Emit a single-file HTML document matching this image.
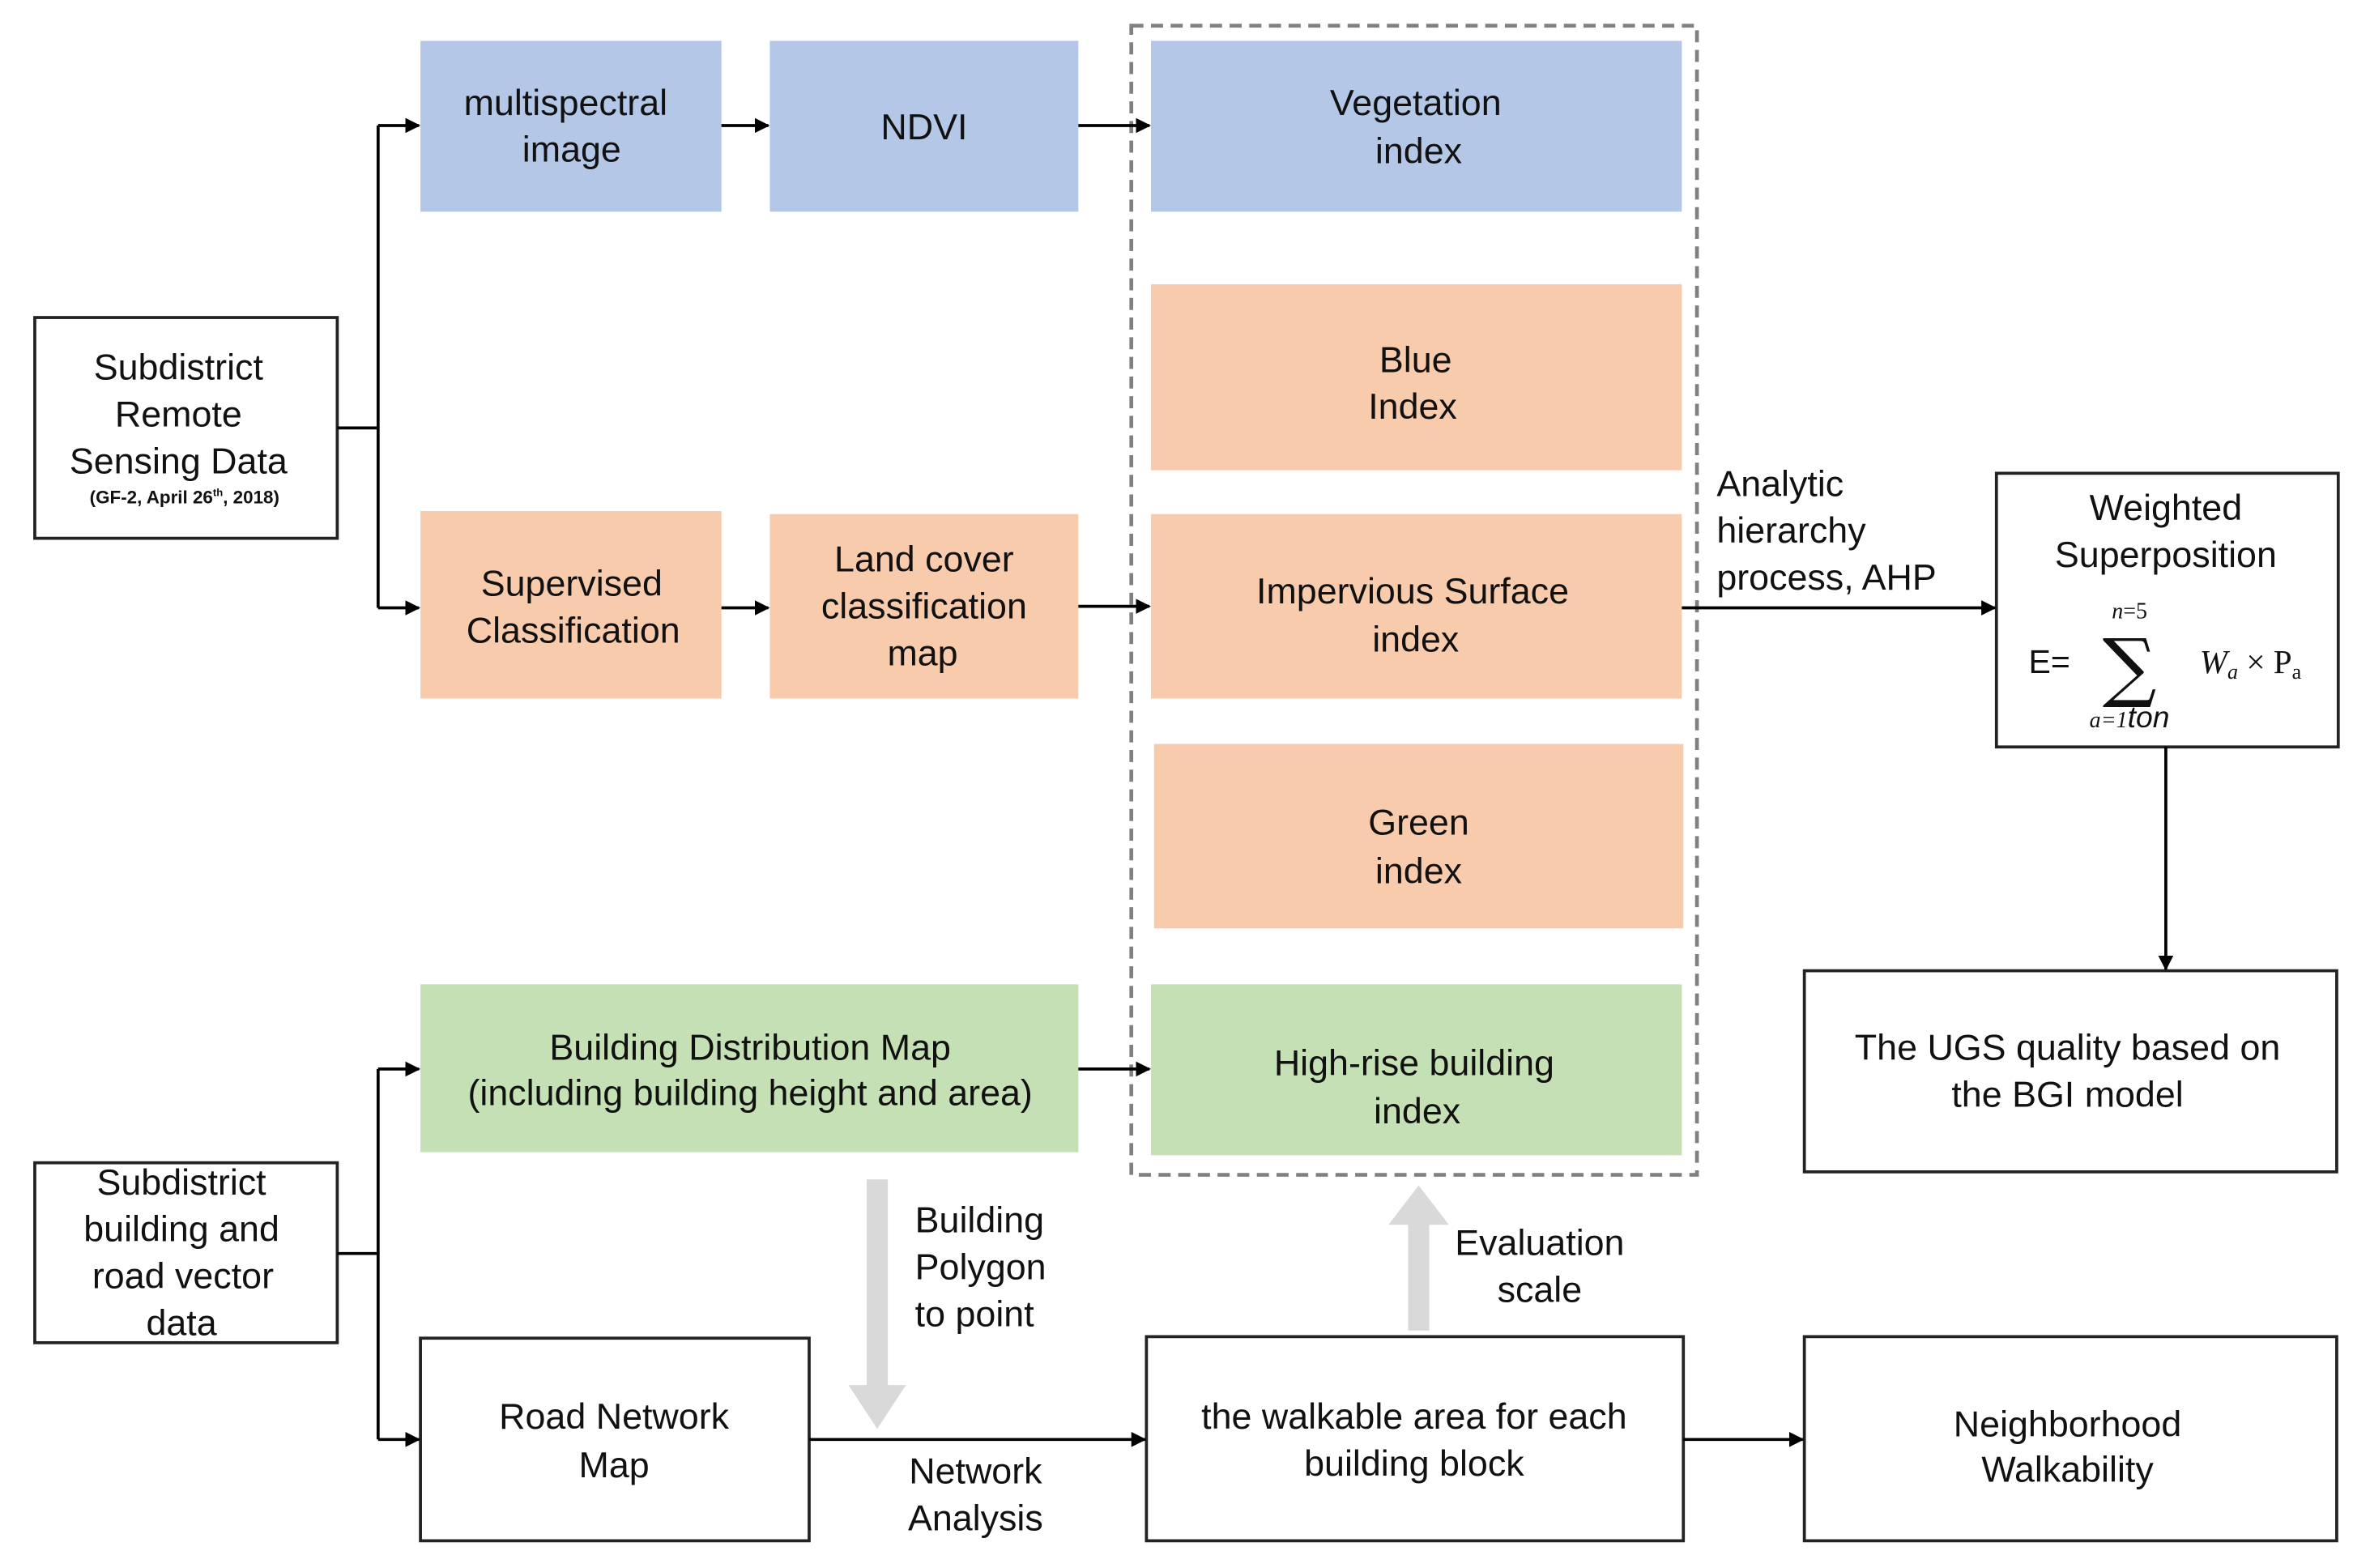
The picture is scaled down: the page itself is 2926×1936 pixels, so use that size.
<!DOCTYPE html>
<html><head><meta charset="utf-8"><style>
html,body{margin:0;padding:0;background:#fff;}
svg{display:block;}
text{font-family:"Liberation Sans",sans-serif;font-size:24px;fill:#111;text-anchor:middle;}
.l{text-anchor:start;}
</style></head><body>
<svg width="2926" height="1936" viewBox="0 0 1567 1037" preserveAspectRatio="none" xmlns="http://www.w3.org/2000/svg">
<defs>
<marker id="a" markerWidth="10" markerHeight="10" refX="9" refY="5" orient="auto" markerUnits="userSpaceOnUse"><path d="M0,0 L10,5 L0,10 z" fill="#000"/></marker>
</defs>
<g>
<rect x="278" y="27" width="199" height="113" fill="#b4c7e7"/>
<rect x="509" y="27" width="204" height="113" fill="#b4c7e7"/>
<rect x="761" y="27" width="351" height="113" fill="#b4c7e7"/>
<rect x="761" y="188" width="351" height="123" fill="#f8cbad"/>
<rect x="278" y="338" width="199" height="124" fill="#f8cbad"/>
<rect x="509" y="340" width="204" height="122" fill="#f8cbad"/>
<rect x="761" y="340" width="351" height="122" fill="#f8cbad"/>
<rect x="763" y="492" width="350" height="122" fill="#f8cbad"/>
<rect x="278" y="651" width="435" height="111" fill="#c5e0b4"/>
<rect x="761" y="651" width="351" height="113" fill="#c5e0b4"/>
</g>
<rect x="748" y="17" width="374" height="760" fill="none" stroke="#808080" stroke-width="2.5" stroke-dasharray="8,5"/>
<g fill="#fff" stroke="#222" stroke-width="2">
<rect x="23" y="210" width="200" height="146"/>
<rect x="23" y="769" width="200" height="119"/>
<rect x="278" y="885" width="257" height="134"/>
<rect x="758" y="884" width="355" height="135"/>
<rect x="1193" y="884" width="352" height="135"/>
<rect x="1193" y="642" width="352" height="133"/>
<rect x="1320" y="313" width="226" height="181"/>
</g>
<g stroke="#000" stroke-width="2" fill="none">
<path d="M223,283 H250 M250,83 V402"/>
<path d="M250,83 H277" marker-end="url(#a)"/>
<path d="M250,402 H277" marker-end="url(#a)"/>
<path d="M477,83 H508" marker-end="url(#a)"/>
<path d="M477,402 H508" marker-end="url(#a)"/>
<path d="M713,83 H760" marker-end="url(#a)"/>
<path d="M713,401 H760" marker-end="url(#a)"/>
<path d="M713,707 H760" marker-end="url(#a)"/>
<path d="M223,829 H250 M250,707 V952"/>
<path d="M250,707 H277" marker-end="url(#a)"/>
<path d="M250,952 H277" marker-end="url(#a)"/>
<path d="M535,952 H757" marker-end="url(#a)"/>
<path d="M1113,952 H1192" marker-end="url(#a)"/>
<path d="M1112,402 H1319" marker-end="url(#a)"/>
<path d="M1432,494 V641" marker-end="url(#a)"/>
</g>
<path d="M573,780 H587 V916 H599 L580,945 L561,916 H573 Z" fill="#d9d9d9"/>
<path d="M931,880 H945 V810 H958 L938,784 L918,810 H931 Z" fill="#d9d9d9"/>
<text x="118" y="251">Subdistrict</text>
<text x="118" y="282">Remote</text>
<text x="118" y="313">Sensing Data</text>
<text x="122" y="333" style="font-size:12px;font-weight:bold">(GF-2,  April 26<tspan style="font-size:7px" dy="-5">th</tspan><tspan dy="5">,  2018)</tspan></text>
<text x="374" y="76">multispectral</text>
<text x="378" y="107">image</text>
<text x="611" y="92">NDVI</text>
<text x="936" y="76">Vegetation</text>
<text x="938" y="108">index</text>
<text x="936" y="246">Blue</text>
<text x="934" y="277">Index</text>
<text x="378" y="394">Supervised</text>
<text x="379" y="425">Classification</text>
<text x="611" y="378">Land cover</text>
<text x="611" y="409">classification</text>
<text x="610" y="440">map</text>
<text x="934" y="399">Impervious  Surface</text>
<text x="936" y="431">index</text>
<text x="938" y="552">Green</text>
<text x="938" y="584">index</text>
<text x="496" y="701">Building Distribution Map</text>
<text x="496" y="731">(including  building  height  and  area)</text>
<text x="935" y="711">High-rise building</text>
<text x="937" y="743">index</text>
<text x="120" y="790">Subdistrict</text>
<text x="120" y="821">building and</text>
<text x="121" y="852">road vector</text>
<text x="120" y="883">data</text>
<text x="406" y="945">Road   Network</text>
<text x="406" y="977">Map</text>
<text x="935" y="945">the  walkable  area for each</text>
<text x="935" y="976">building block</text>
<text x="1367" y="950">Neighborhood</text>
<text x="1367" y="980">Walkability</text>
<text x="1367" y="701">The  UGS  quality  based on</text>
<text x="1367" y="732">the  BGI model</text>
<text x="1432" y="344">Weighted</text>
<text x="1432" y="375">Superposition</text>
<text x="1355" y="445" style="font-size:22px">E=</text>
<text x="1408" y="409" style="font-size:15px;font-family:'Liberation Serif',serif;font-style:italic">n<tspan style="font-style:normal">=5</tspan></text>
<text x="1408" y="458" style="font-size:50px;font-family:'DejaVu Serif',serif">∑</text>
<text x="1408" y="481" style="font-size:20px;font-style:italic"><tspan style="font-size:15px;font-family:'Liberation Serif',serif">a=1</tspan>ton</text>
<text x="1488" y="445" style="font-size:22px;font-family:'Liberation Serif',serif"><tspan style="font-style:italic">W</tspan><tspan style="font-size:14px;font-style:italic" dy="4">a</tspan><tspan dy="-4"> × P</tspan><tspan style="font-size:14px" dy="4">a</tspan></text>
<text class="l" x="1135" y="328">Analytic</text>
<text class="l" x="1135" y="359">hierarchy</text>
<text class="l" x="1135" y="390">process, AHP</text>
<text class="l" x="605" y="815">Building</text>
<text class="l" x="605" y="846">Polygon</text>
<text class="l" x="605" y="877">to point</text>
<text x="645" y="981">Network</text>
<text x="645" y="1012">Analysis</text>
<text x="1018" y="830">Evaluation</text>
<text x="1018" y="861">scale</text>
</svg>
</body></html>
